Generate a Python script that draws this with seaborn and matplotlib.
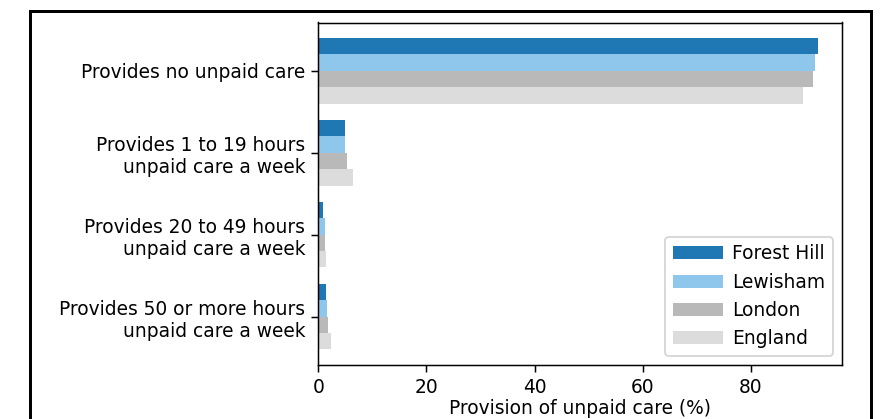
import numpy as np
import pandas as pd
import matplotlib
matplotlib.use('Agg')
import matplotlib.pyplot as plt
import matplotlib.patches as patches
import seaborn as sns

categories = ['Provides no unpaid care',
              'Provides 1 to 19 hours\nunpaid care a week',
              'Provides 20 to 49 hours\nunpaid care a week',
              'Provides 50 or more hours\nunpaid care a week']
areas = ['Forest Hill', 'Lewisham', 'London', 'England']
forest_hill = [92.4, 5.0, 0.9, 1.4]
lewisham = [91.9, 4.9, 1.3, 1.7]
london = [91.5, 5.3, 1.3, 1.8]
england = [89.7, 6.5, 1.4, 2.4]
colours = ['#1f77b4', '#8fc6eb', '#b9b9b9', '#dcdcdc']

df = pd.DataFrame({
    'category': categories * 4,
    'area': np.repeat(areas, len(categories)),
    'value': forest_hill + lewisham + london + england,
})

DPI = 134
fig = plt.figure(figsize=(884 / DPI, 419 / DPI), dpi=DPI)
ax = fig.add_axes([318.3 / 884, 1 - 365 / 419, 524 / 884, (365 - 22.5) / 419])

sns.barplot(data=df, y='category', x='value', hue='area', order=categories,
            hue_order=areas, palette=colours, saturation=1, width=0.8,
            orient='h', errorbar=None, ax=ax)

ax.set_ylim(3.59, -0.59)
ax.set_xlim(0, 96.9)
ax.set_xticks([0, 20, 40, 60, 80])
ax.set_ylabel('')
ax.set_xlabel('Provision of unpaid care (%)', labelpad=0.8)
ax.legend(loc='lower right', title=None, handlelength=2.7, handletextpad=0.5)

# outer frame around the figure (bottom edge falls outside the crop)
frame = patches.Rectangle((29.5 / 884, -0.2), (871 - 29.5) / 884, 1.2 - 10.5 / 419,
                          transform=fig.transFigure, fill=False,
                          edgecolor='black', linewidth=1.6)
fig.add_artist(frame)

fig.savefig('out.png', dpi=DPI)
